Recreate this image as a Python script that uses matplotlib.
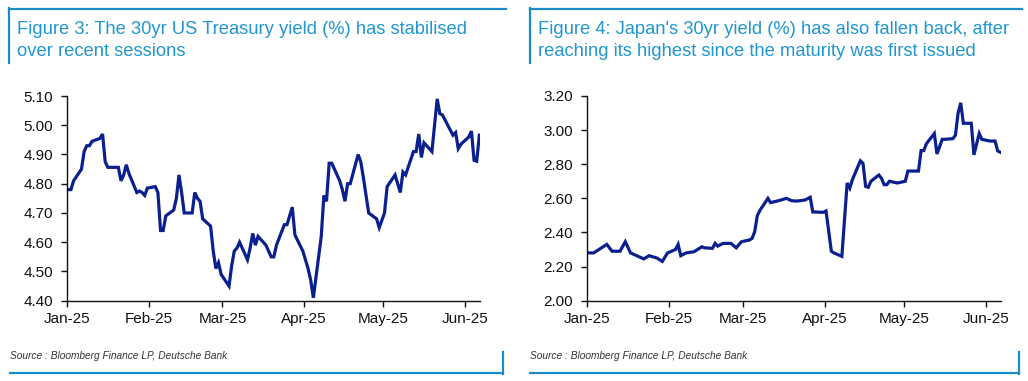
import matplotlib
matplotlib.use("Agg")
import matplotlib.pyplot as plt
import matplotlib.dates as mdates
from matplotlib.lines import Line2D
import pandas as pd

# US 30yr Treasury yield (%)
us_dates = [
    "2025-01-01", "2025-01-02", "2025-01-03", "2025-01-06", "2025-01-07", "2025-01-08",
    "2025-01-09", "2025-01-10", "2025-01-13", "2025-01-14", "2025-01-15", "2025-01-16",
    "2025-01-17", "2025-01-20", "2025-01-21", "2025-01-22", "2025-01-23", "2025-01-24",
    "2025-01-27", "2025-01-28", "2025-01-29", "2025-01-30", "2025-01-31",
    "2025-02-03", "2025-02-04", "2025-02-05", "2025-02-06", "2025-02-07", "2025-02-10",
    "2025-02-11", "2025-02-12", "2025-02-13", "2025-02-14", "2025-02-17", "2025-02-18",
    "2025-02-19", "2025-02-20", "2025-02-21", "2025-02-24", "2025-02-25", "2025-02-26",
    "2025-02-27", "2025-02-28",
    "2025-03-03", "2025-03-04", "2025-03-05", "2025-03-06", "2025-03-07", "2025-03-10",
    "2025-03-11", "2025-03-12", "2025-03-13", "2025-03-14", "2025-03-17", "2025-03-18",
    "2025-03-19", "2025-03-20", "2025-03-21", "2025-03-24", "2025-03-25", "2025-03-26",
    "2025-03-27", "2025-03-28", "2025-03-31",
    "2025-04-01", "2025-04-02", "2025-04-03", "2025-04-04", "2025-04-07", "2025-04-08",
    "2025-04-09", "2025-04-10", "2025-04-11", "2025-04-14", "2025-04-15", "2025-04-16",
    "2025-04-17", "2025-04-18", "2025-04-21", "2025-04-22", "2025-04-23", "2025-04-24",
    "2025-04-25", "2025-04-28", "2025-04-29", "2025-04-30",
    "2025-05-01", "2025-05-02", "2025-05-05", "2025-05-06", "2025-05-07", "2025-05-08",
    "2025-05-09", "2025-05-12", "2025-05-13", "2025-05-14", "2025-05-15", "2025-05-16",
    "2025-05-19", "2025-05-20", "2025-05-21", "2025-05-22", "2025-05-23", "2025-05-27",
    "2025-05-28", "2025-05-29", "2025-05-30",
    "2025-06-02", "2025-06-03", "2025-06-04", "2025-06-05", "2025-06-06",
]
us_yield = [
    4.78, 4.78, 4.81, 4.85, 4.91, 4.93,
    4.93, 4.945, 4.955, 4.97, 4.875, 4.856,
    4.856, 4.856, 4.81, 4.83, 4.865, 4.835,
    4.77, 4.775, 4.77, 4.76, 4.785,
    4.79, 4.77, 4.64, 4.64, 4.69, 4.71,
    4.75, 4.83, 4.77, 4.70, 4.70, 4.77,
    4.75, 4.74, 4.68, 4.655, 4.57, 4.51,
    4.53, 4.49,
    4.45, 4.52, 4.57, 4.58, 4.60, 4.54,
    4.58, 4.63, 4.59, 4.62, 4.59, 4.57,
    4.55, 4.55, 4.59, 4.66, 4.66, 4.69,
    4.72, 4.625, 4.57,
    4.54, 4.51, 4.47, 4.41, 4.62, 4.76,
    4.74, 4.87, 4.87, 4.81, 4.78, 4.74,
    4.80, 4.80, 4.90, 4.875, 4.82, 4.76,
    4.70, 4.68, 4.65, 4.675,
    4.70, 4.79, 4.83, 4.80, 4.77, 4.84,
    4.83, 4.91, 4.91, 4.97, 4.89, 4.94,
    4.91, 5.00, 5.09, 5.04, 5.035, 4.966,
    4.975, 4.92, 4.935,
    4.96, 4.98, 4.88, 4.877, 4.966,
]

# Japan 30yr JGB yield (%)
jp_dates = [
    "2025-01-01", "2025-01-03", "2025-01-06", "2025-01-08", "2025-01-10", "2025-01-13",
    "2025-01-15", "2025-01-17", "2025-01-22", "2025-01-24", "2025-01-27", "2025-01-29",
    "2025-01-31",
    "2025-02-03", "2025-02-04", "2025-02-05", "2025-02-07", "2025-02-10", "2025-02-13",
    "2025-02-14", "2025-02-17", "2025-02-18", "2025-02-19", "2025-02-21", "2025-02-24",
    "2025-02-26", "2025-02-28",
    "2025-03-03", "2025-03-04", "2025-03-05", "2025-03-06", "2025-03-07", "2025-03-10",
    "2025-03-11", "2025-03-14", "2025-03-17", "2025-03-19", "2025-03-21", "2025-03-24",
    "2025-03-26", "2025-03-27", "2025-03-28", "2025-03-31",
    "2025-04-01", "2025-04-02", "2025-04-03", "2025-04-04", "2025-04-07", "2025-04-08",
    "2025-04-09", "2025-04-10", "2025-04-11", "2025-04-14", "2025-04-15", "2025-04-16",
    "2025-04-17", "2025-04-18", "2025-04-21", "2025-04-22", "2025-04-23", "2025-04-24",
    "2025-04-25", "2025-04-28",
    "2025-05-01", "2025-05-02", "2025-05-06", "2025-05-07", "2025-05-08", "2025-05-09",
    "2025-05-12", "2025-05-13", "2025-05-15", "2025-05-16", "2025-05-19", "2025-05-20",
    "2025-05-21", "2025-05-22", "2025-05-23", "2025-05-26", "2025-05-27", "2025-05-29",
    "2025-05-30",
    "2025-06-02", "2025-06-04", "2025-06-05", "2025-06-06",
]
jp_yield = [
    2.28, 2.28, 2.31, 2.33, 2.29, 2.29,
    2.346, 2.28, 2.245, 2.264, 2.25, 2.23,
    2.28,
    2.30, 2.33, 2.264, 2.28, 2.287, 2.316,
    2.31, 2.307, 2.336, 2.32, 2.336, 2.336,
    2.31, 2.346,
    2.356, 2.365, 2.405, 2.50, 2.53, 2.60,
    2.575, 2.586, 2.60, 2.586, 2.584, 2.59,
    2.606, 2.52, 2.52, 2.518,
    2.526, 2.41, 2.29, 2.28, 2.26, 2.475,
    2.69, 2.66, 2.71, 2.82, 2.805, 2.67,
    2.665, 2.70, 2.737, 2.717, 2.68, 2.68,
    2.70, 2.69,
    2.70, 2.76, 2.76, 2.88, 2.88, 2.92,
    2.98, 2.86, 2.946, 2.946, 2.95, 2.97,
    3.10, 3.16, 3.04, 3.04, 2.855, 2.98,
    2.946,
    2.936, 2.936, 2.878, 2.87,
]

us_title = "Figure 3: The 30yr US Treasury yield (%) has stabilised\nover recent sessions"
jp_title = ("Figure 4: Japan's 30yr yield (%) has also fallen back, after\n"
            "reaching its highest since the maturity was first issued")
source = "Source : Bloomberg Finance LP, Deutsche Bank"

BORDER = "#1b8cc6"
TITLE_C = "#2196d0"
LINE_C = "#0b1f8e"

plt.rcParams["font.family"] = ["Liberation Sans", "DejaVu Sans"]

W, H = 1028, 381
fig = plt.figure(figsize=(W / 100, H / 100), dpi=100)


def fx(px):
    return px / W


def fy(py):
    return 1 - py / H


def panel(x0, x1, ax_left, ax_right, title, dates, vals, ylo, yhi, ystep, bot_x0):
    # frame lines
    lw = 1.6
    fig.add_artist(Line2D([fx(x0), fx(x1)], [fy(8.5), fy(8.5)], color=BORDER, lw=lw))
    fig.add_artist(Line2D([fx(x0), fx(x0)], [fy(8), fy(63)], color=BORDER, lw=lw))
    fig.add_artist(Line2D([fx(bot_x0), fx(x1 - 3)], [fy(373), fy(373)], color=BORDER, lw=lw))
    fig.add_artist(Line2D([fx(x1 - 3), fx(x1 - 3)], [fy(352), fy(373.5)], color=BORDER, lw=lw))

    fig.text(fx(x0 + 8.5), fy(21), title, color=TITLE_C, fontsize=13.2,
             va="top", ha="left", linespacing=1.42)
    fig.text(fx(bot_x0), fy(356), source, color="#333333", fontsize=7.3,
             style="italic", va="center", ha="left")

    ax = fig.add_axes([fx(ax_left), fy(300.7), fx(ax_right - ax_left), (300.7 - 96) / H])
    d = pd.to_datetime(dates) + pd.Timedelta(hours=12)
    ax.plot(d, vals, color=LINE_C, lw=2.3, solid_joinstyle="miter")
    ax.set_ylim(ylo, yhi)
    n = int(round((yhi - ylo) / ystep))
    ax.set_yticks([ylo + i * ystep for i in range(n + 1)])
    ax.yaxis.set_major_formatter(matplotlib.ticker.FormatStrFormatter("%.2f"))
    ax.set_xlim(pd.Timestamp("2025-01-01"), pd.Timestamp("2025-06-06 18:00"))
    ax.xaxis.set_major_locator(mdates.MonthLocator())
    ax.xaxis.set_major_formatter(mdates.DateFormatter("%b-%y"))
    for s in ["top", "right"]:
        ax.spines[s].set_visible(False)
    for s in ["left", "bottom"]:
        ax.spines[s].set_linewidth(1.0)
        ax.spines[s].set_color("#111111")
    ax.tick_params(axis="both", direction="out", length=4, width=1.0,
                   colors="#111111", labelsize=11)
    ax.tick_params(axis="y", pad=6)
    ax.tick_params(axis="x", pad=4)
    return ax


panel(8.5, 506, 67, 480, us_title, us_dates, us_yield, 4.40, 5.10, 0.10, 10)
panel(530, 1022, 587, 1001, jp_title, jp_dates, jp_yield, 2.00, 3.20, 0.20, 530)

fig.savefig("out.png", dpi=100)
